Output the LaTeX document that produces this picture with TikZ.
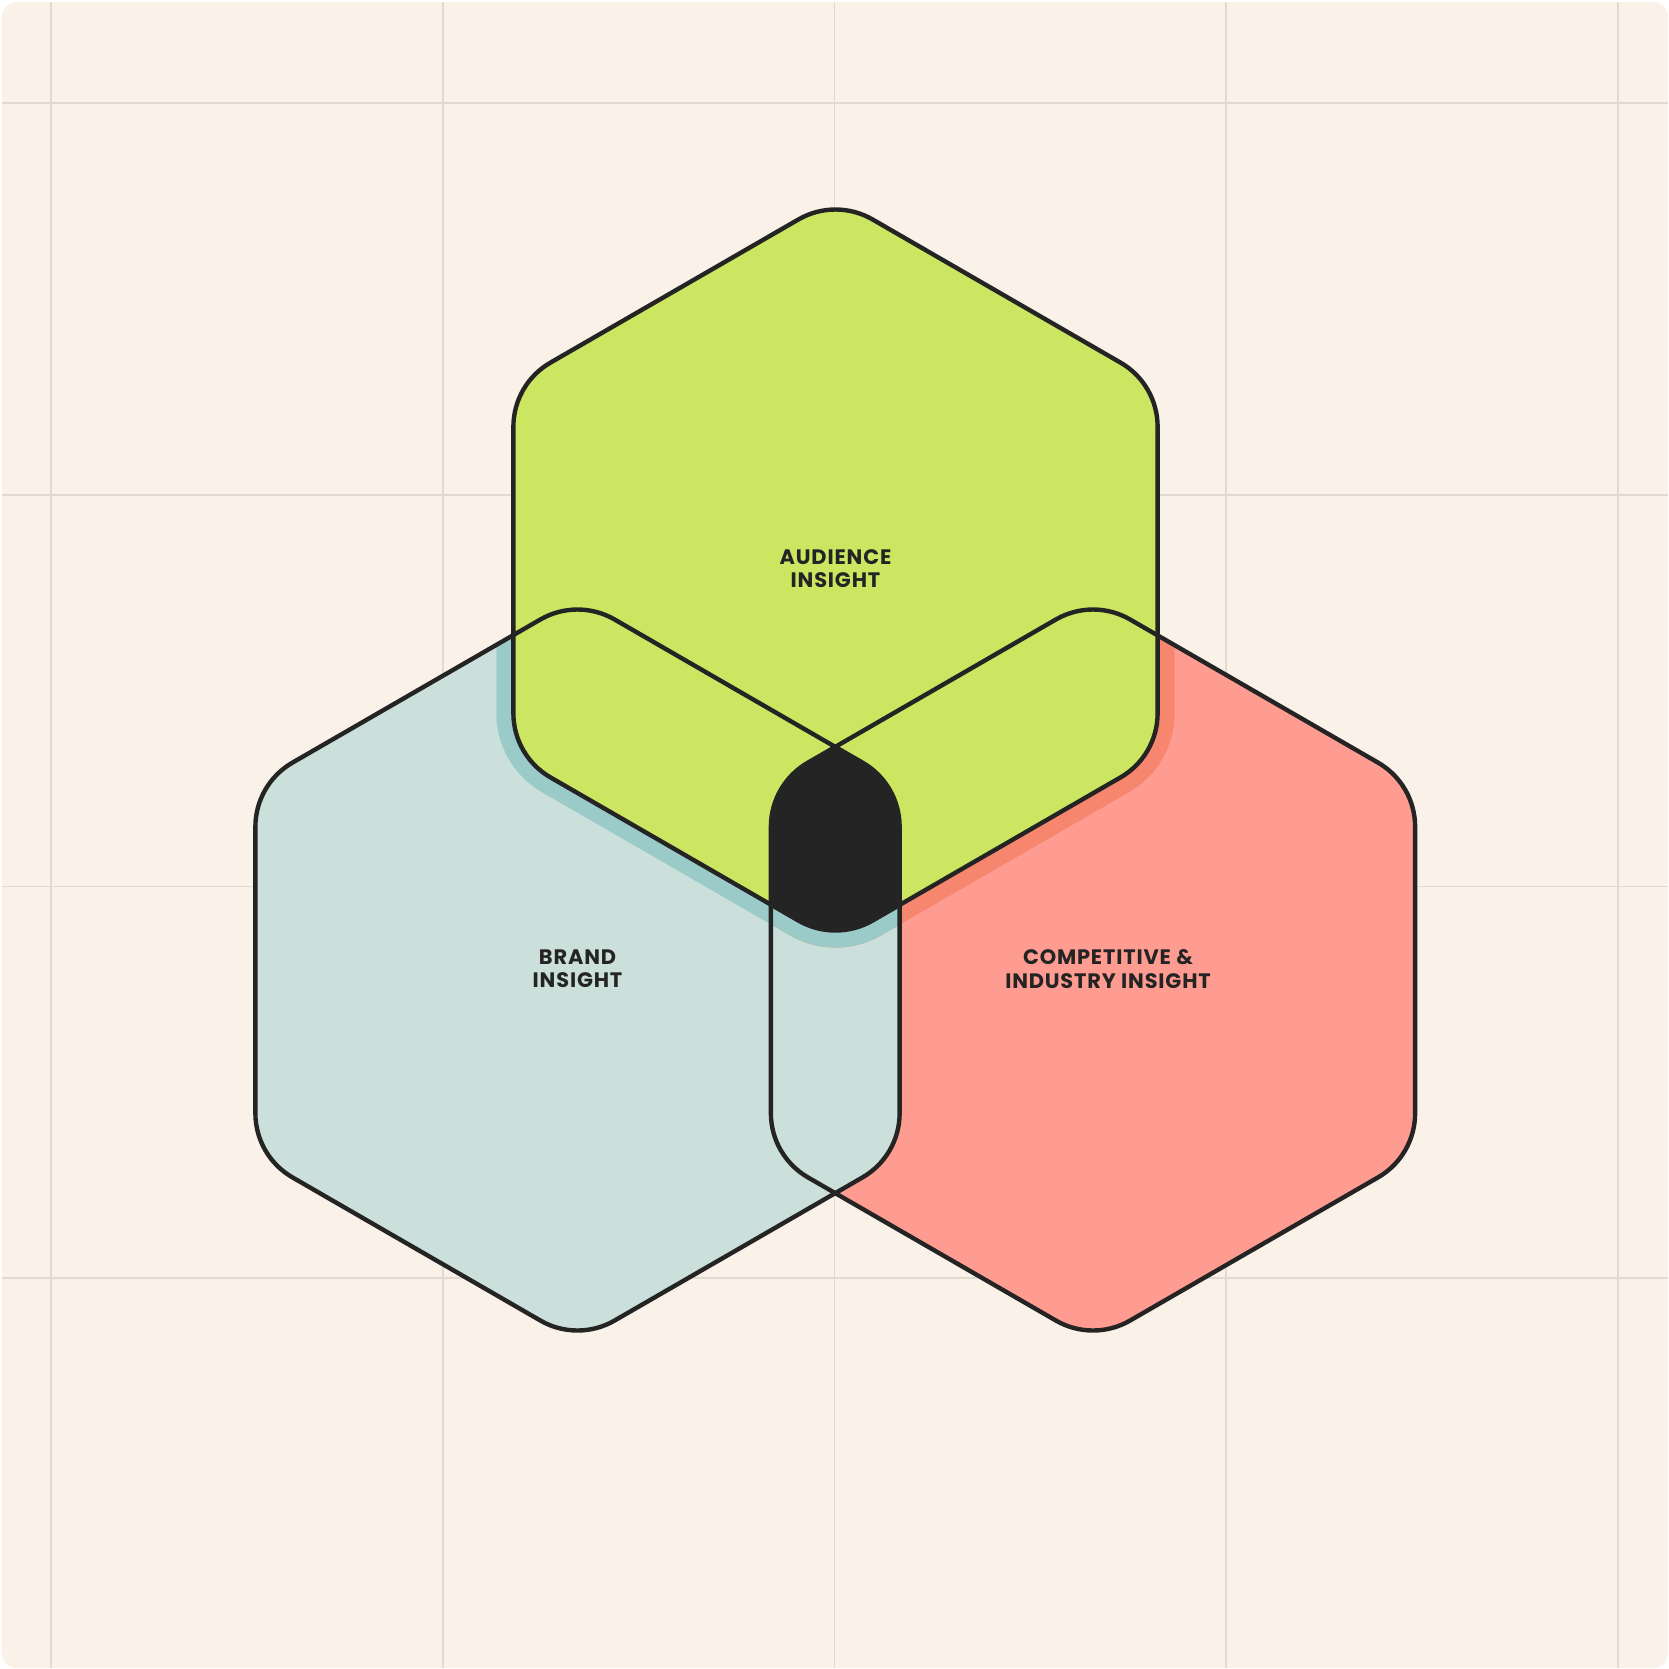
\documentclass[tikz,border=0pt]{standalone}
\usepackage{fontspec}
\setmainfont{Poppins}
\newfontfamily\insightfont{Poppins}[LetterSpace=4.0]
\definecolor{paper}{HTML}{FAF1E8}
\definecolor{gridgray}{HTML}{E2D9D0}
\definecolor{inkblack}{HTML}{242424}
\definecolor{limegreen}{HTML}{CDE661}
\definecolor{paleteal}{HTML}{CBE0DA}
\definecolor{deepteal}{HTML}{9ACBC9}
\definecolor{salmon}{HTML}{FF9C92}
\definecolor{deepsalmon}{HTML}{F7866F}
% one rounded hexagon (corner arcs of radius 74), centre in pixels
\newcommand{\hexagon}[2]{[shift={(#1,#2)}] (90:286.5) ++(60:74)
  arc[start angle=60, end angle=120, radius=74] -- ++(210:286.5)
  arc[start angle=120, end angle=180, radius=74] -- ++(270:286.5)
  arc[start angle=180, end angle=240, radius=74] -- ++(330:286.5)
  arc[start angle=240, end angle=300, radius=74] -- ++(30:286.5)
  arc[start angle=300, end angle=360, radius=74] -- ++(90:286.5)
  arc[start angle=0, end angle=60, radius=74] -- cycle}
\tikzset{
  hexline/.style={draw=inkblack, line width=1.25pt},
  hexshadow/.style={fill=#1, draw=#1, line width=9.7pt},
  insight/.style={text=inkblack, align=center, inner sep=0pt,
    font=\insightfont\fontsize{5.95}{6.6}\selectfont\bfseries},
  gridline/.style={draw=gridgray, line width=0.4pt}
}
\usetikzlibrary{positioning}

\begin{document}
\begin{tikzpicture}[x=0.01cm, y=-0.01cm]
\useasboundingbox (0,0) rectangle (1669,1669);
\fill[white] (0,0) rectangle (1669,1669);
\fill[paper, rounded corners=0.15cm] (2,2) rectangle (1668,1668);
%background grid
\begin{scope}
\clip[rounded corners=0.15cm] (2,2) rectangle (1668,1668);
\foreach \x in {51,443,834.5,1226,1618} \draw[gridline] (\x,0) -- (\x,1669);
\foreach \y in {103,495,886.5,1278} \draw[gridline] (0,\y) -- (1669,\y);
\end{scope}
%hexagon fills
\fill[salmon] \hexagon{1093}{970};
\fill[paleteal] \hexagon{577.5}{970};
%shadow of the top hexagon
\begin{scope}
\clip \hexagon{1093}{970};
\filldraw[hexshadow=deepsalmon] \hexagon{835.5}{570};
\end{scope}
\begin{scope}
\clip \hexagon{577.5}{970};
\filldraw[hexshadow=deepteal] \hexagon{835.5}{570};
\end{scope}
\fill[limegreen] \hexagon{835.5}{570};
%common part of all three
\begin{scope}
\clip \hexagon{577.5}{970};
\clip \hexagon{1093}{970};
\fill[inkblack] \hexagon{835.5}{570};
\end{scope}
%outlines
\draw[hexline] \hexagon{1093}{970};
\draw[hexline] \hexagon{577.5}{970};
\draw[hexline] \hexagon{835.5}{570};
%labels
\node[insight] (audience) at (835.5,569) {AUDIENCE\\INSIGHT};
\node[insight] (brand) at (577.5,969) {BRAND\\INSIGHT};
\node[insight] (competitive) at (1108,969) {COMPETITIVE \&\\INDUSTRY INSIGHT};
\end{tikzpicture}
\end{document}
